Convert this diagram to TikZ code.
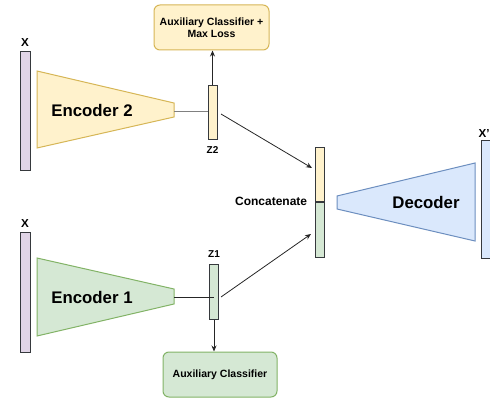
\documentclass[tikz,border=0pt]{standalone}
\usepackage{fontspec}
\setmainfont{Liberation Sans}
\usetikzlibrary{arrows.meta,positioning}

\definecolor{ylwfill}{HTML}{FFF2CC}
\definecolor{ylwline}{HTML}{D6B656}
\definecolor{grnfill}{HTML}{D5E8D4}
\definecolor{grnline}{HTML}{82B366}
\definecolor{blufill}{HTML}{DAE8FC}
\definecolor{bluline}{HTML}{6C8EBF}
\definecolor{prpfill}{HTML}{E1D5E7}
\definecolor{barline}{HTML}{36393D}

\begin{document}
\begin{tikzpicture}[x=1pt,y=-1pt,line width=1pt,
  bar/.style={draw=barline,rectangle,inner sep=0pt,minimum width=9pt},
  aux box/.style={draw,rounded corners=6pt,inner sep=0pt,align=center,font=\bfseries\fontsize{10.5}{12.5}\selectfont},
  enc text/.style={font=\bfseries\fontsize{16.8}{18}\selectfont},
  small label/.style={font=\bfseries\fontsize{11.6}{13}\selectfont},
  tiny label/.style={font=\bfseries\fontsize{10}{11}\selectfont},
  link/.style={draw=black!85,line width=0.8pt,-{Stealth[length=6pt,width=5pt]}}]

  \useasboundingbox (0,0) rectangle (490,398);

  % inputs
  \node[bar,fill=prpfill,minimum width=10pt,minimum height=119pt] (x2) at (25,111.5) {};
  \node[small label,above=1pt of x2] {X};
  \node[bar,fill=prpfill,minimum width=10pt,minimum height=119pt] (x1) at (25,292.5) {};
  \node[small label,above=1pt of x1] {X};

  % encoders
  \draw[draw=ylwline,fill=ylwfill] (37,71) -- (174,103) -- (174,117) -- (37,148) -- cycle;
  \coordinate (e2out) at (174,112);
  \node[enc text] (enc2) at (92,110) {Encoder 2};

  \draw[draw=grnline,fill=grnfill] (37,258) -- (174,289) -- (174,304) -- (37,336) -- cycle;
  \coordinate (e1out) at (174,297);
  \node[enc text] (enc1) at (92,297) {Encoder 1};

  % latent codes
  \node[bar,fill=ylwfill,minimum height=54pt] (z2) at (212.5,113) {};
  \node[tiny label,below=2pt of z2] {Z2};
  \node[bar,fill=grnfill,minimum height=55pt] (z1) at (214,291.5) {};
  \node[tiny label,above=2pt of z1] {Z1};

  \draw[draw=black!50] (e2out) -- (z2.west |- e2out);
  \draw[draw=black!85] (e1out) -- (z1.center |- e1out);

  % auxiliary heads
  \node[aux box,draw=ylwline,fill=ylwfill,minimum width=115pt,minimum height=45pt] (auxtop) at (211.5,27.5)
    {Auxiliary Classifier +\\Max Loss};
  \node[aux box,draw=grnline,fill=grnfill,minimum width=114pt,minimum height=45pt] (auxbot) at (220,374.5)
    {Auxiliary Classifier};

  \draw[link] (z2.north) -- (auxtop.south -| z2.north);
  \draw[link] (z1.south) -- (auxbot.north -| z1.south);

  % concatenation
  \node[bar,fill=ylwfill,minimum height=54pt] (cattop) at (319.5,175) {};
  \node[bar,fill=grnfill,minimum height=55pt,below=0pt of cattop] (catbot) {};
  \node[small label,anchor=east,font=\bfseries\fontsize{12}{13}\selectfont] at (311,201) {Concatenate};

  \coordinate (z2out) at (221,114);
  \coordinate (z1out) at (221,297);
  \draw[link] (z2out) -- (312,168);
  \draw[link] (z1out) -- (311,234);

  % decoder
  \draw[draw=bluline,fill=blufill] (337,196) -- (475,163) -- (475,241) -- (337,209) -- cycle;
  \node[enc text] (dec) at (426,202) {Decoder};

  \node[bar,fill=blufill,minimum width=11pt,minimum height=118pt] (xout) at (486.5,200) {};
  \node[small label,anchor=south east,inner xsep=0pt] at (490,141) {X'};

\end{tikzpicture}
\end{document}
